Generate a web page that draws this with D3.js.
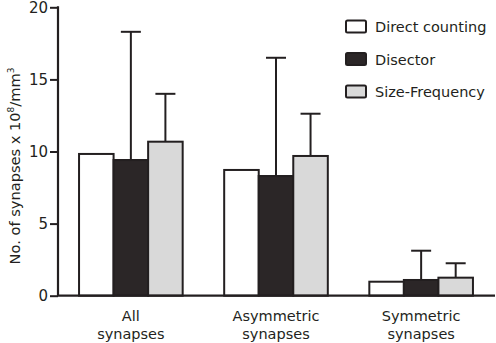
<!DOCTYPE html>
<html>
<head>
<meta charset="utf-8">
<script src="https://cdn.jsdelivr.net/npm/d3@7"></script>
<style>
    body { margin: 0; background: #fff; }
    text { font-family: "DejaVu Sans", sans-serif; fill: #231f20; }
</style>
</head>
<body>
<div id="chart"></div>
<script>
var categories = [["All", "synapses"], ["Asymmetric", "synapses"], ["Symmetric", "synapses"]];
var methods = ["Direct counting", "Disector", "Size-Frequency"];
var directValues = [9.83, 8.72, 0.97];
var disectorValues = [9.41, 8.30, 1.09];
var sizeFreqValues = [10.68, 9.69, 1.25];
var disectorErr = [18.3, 16.5, 3.12];
var sizeFreqErr = [14.0, 12.62, 2.25];
var yTicks = [0, 5, 10, 15, 20];

function init() {
    var w = 496;
    var h = 343;
    var ink = "#231f20";
    var fills = ["#ffffff", "#2b2627", "#d9d9d9"];

    var svg = d3.select("#chart")
        .append("svg")
        .attr("width", w)
        .attr("height", h);

    var yScale = d3.scaleLinear()
        .domain([0, 20])
        .range([295.7, 7.3]);

    var xScale = d3.scaleBand()
        .domain(d3.range(categories.length))
        .range([58, 494])
        .paddingInner(0.286)
        .paddingOuter(0.145);

    var inner = d3.scaleBand()
        .domain(d3.range(methods.length))
        .range([0, xScale.bandwidth()]);

    var series = [directValues, disectorValues, sizeFreqValues];
    var errs = [null, disectorErr, sizeFreqErr];

    var bars = [];
    categories.forEach(function(c, i) {
        series.forEach(function(s, j) {
            bars.push({ cat: i, m: j, v: s[i], e: errs[j] ? errs[j][i] : null });
        });
    });

    // error bars first so the bar outlines sit on top
    var withErr = bars.filter(function(d) { return d.e !== null; });
    svg.selectAll(".err")
        .data(withErr)
        .enter()
        .append("line")
        .attr("x1", function(d) { return xScale(d.cat) + inner(d.m) + inner.bandwidth() / 2; })
        .attr("x2", function(d) { return xScale(d.cat) + inner(d.m) + inner.bandwidth() / 2; })
        .attr("y1", function(d) { return yScale(d.v); })
        .attr("y2", function(d) { return yScale(d.e); })
        .attr("stroke", ink)
        .attr("stroke-width", 2);

    svg.selectAll(".cap")
        .data(withErr)
        .enter()
        .append("line")
        .attr("x1", function(d) { return xScale(d.cat) + inner(d.m) + inner.bandwidth() / 2 - 10; })
        .attr("x2", function(d) { return xScale(d.cat) + inner(d.m) + inner.bandwidth() / 2 + 10; })
        .attr("y1", function(d) { return yScale(d.e); })
        .attr("y2", function(d) { return yScale(d.e); })
        .attr("stroke", ink)
        .attr("stroke-width", 2);

    svg.selectAll("rect.bar")
        .data(bars)
        .enter()
        .append("rect")
        .attr("class", "bar")
        .attr("x", function(d) { return xScale(d.cat) + inner(d.m); })
        .attr("y", function(d) { return yScale(d.v); })
        .attr("width", inner.bandwidth())
        .attr("height", function(d) { return yScale(0) - yScale(d.v); })
        .attr("fill", function(d) { return fills[d.m]; })
        .attr("stroke", ink)
        .attr("stroke-width", 2);

    // y axis
    var yAxis = d3.axisLeft(yScale)
        .tickValues(yTicks)
        .tickSize(8)
        .tickPadding(2);

    var gy = svg.append("g")
        .attr("transform", "translate(58,0)")
        .call(yAxis);
    gy.select(".domain").attr("stroke", ink).attr("stroke-width", 2.2)
        .attr("d", "M0," + (yScale(20) - 1) + "V" + yScale(0));
    gy.selectAll(".tick line").attr("stroke", ink).attr("stroke-width", 2);
    gy.selectAll(".tick text")
        .attr("font-size", 15)
        .attr("font-family", "DejaVu Sans, sans-serif")
        .attr("fill", ink);

    // x axis line
    svg.append("line")
        .attr("x1", 57)
        .attr("x2", 495)
        .attr("y1", yScale(0))
        .attr("y2", yScale(0))
        .attr("stroke", ink)
        .attr("stroke-width", 2.2);

    // category labels
    var lab = svg.selectAll(".cat")
        .data(categories)
        .enter()
        .append("text")
        .attr("text-anchor", "middle")
        .attr("font-size", 14.5)
        .attr("x", function(d, i) { return xScale(i) + xScale.bandwidth() / 2; })
        .attr("y", 320.5);
    lab.append("tspan").text(function(d) { return d[0]; });
    lab.append("tspan")
        .attr("x", function(d, i) { return xScale(i) + xScale.bandwidth() / 2; })
        .attr("dy", 18)
        .text(function(d) { return d[1]; });

    // y axis title
    var title = svg.append("text")
        .attr("transform", "translate(19.5,166) rotate(-90)")
        .attr("text-anchor", "middle")
        .attr("font-size", 14.6);
    title.append("tspan").text("No. of synapses x 10");
    title.append("tspan").attr("font-size", 9).attr("dy", -6).text("8");
    title.append("tspan").attr("dy", 6).text("/mm");
    title.append("tspan").attr("font-size", 9).attr("dy", -6).text("3");

    // legend
    var legend = svg.selectAll(".legend")
        .data(methods)
        .enter()
        .append("g")
        .attr("transform", function(d, i) { return "translate(346," + (20.5 + i * 32.5) + ")"; });
    legend.append("rect")
        .attr("width", 20)
        .attr("height", 12)
        .attr("rx", 1.5)
        .attr("fill", function(d, i) { return fills[i]; })
        .attr("stroke", ink)
        .attr("stroke-width", 2);
    legend.append("text")
        .attr("x", 29)
        .attr("y", 11.5)
        .attr("font-size", 14.5)
        .text(function(d) { return d; });
}

window.onload = init;
</script>
</body>
</html>
